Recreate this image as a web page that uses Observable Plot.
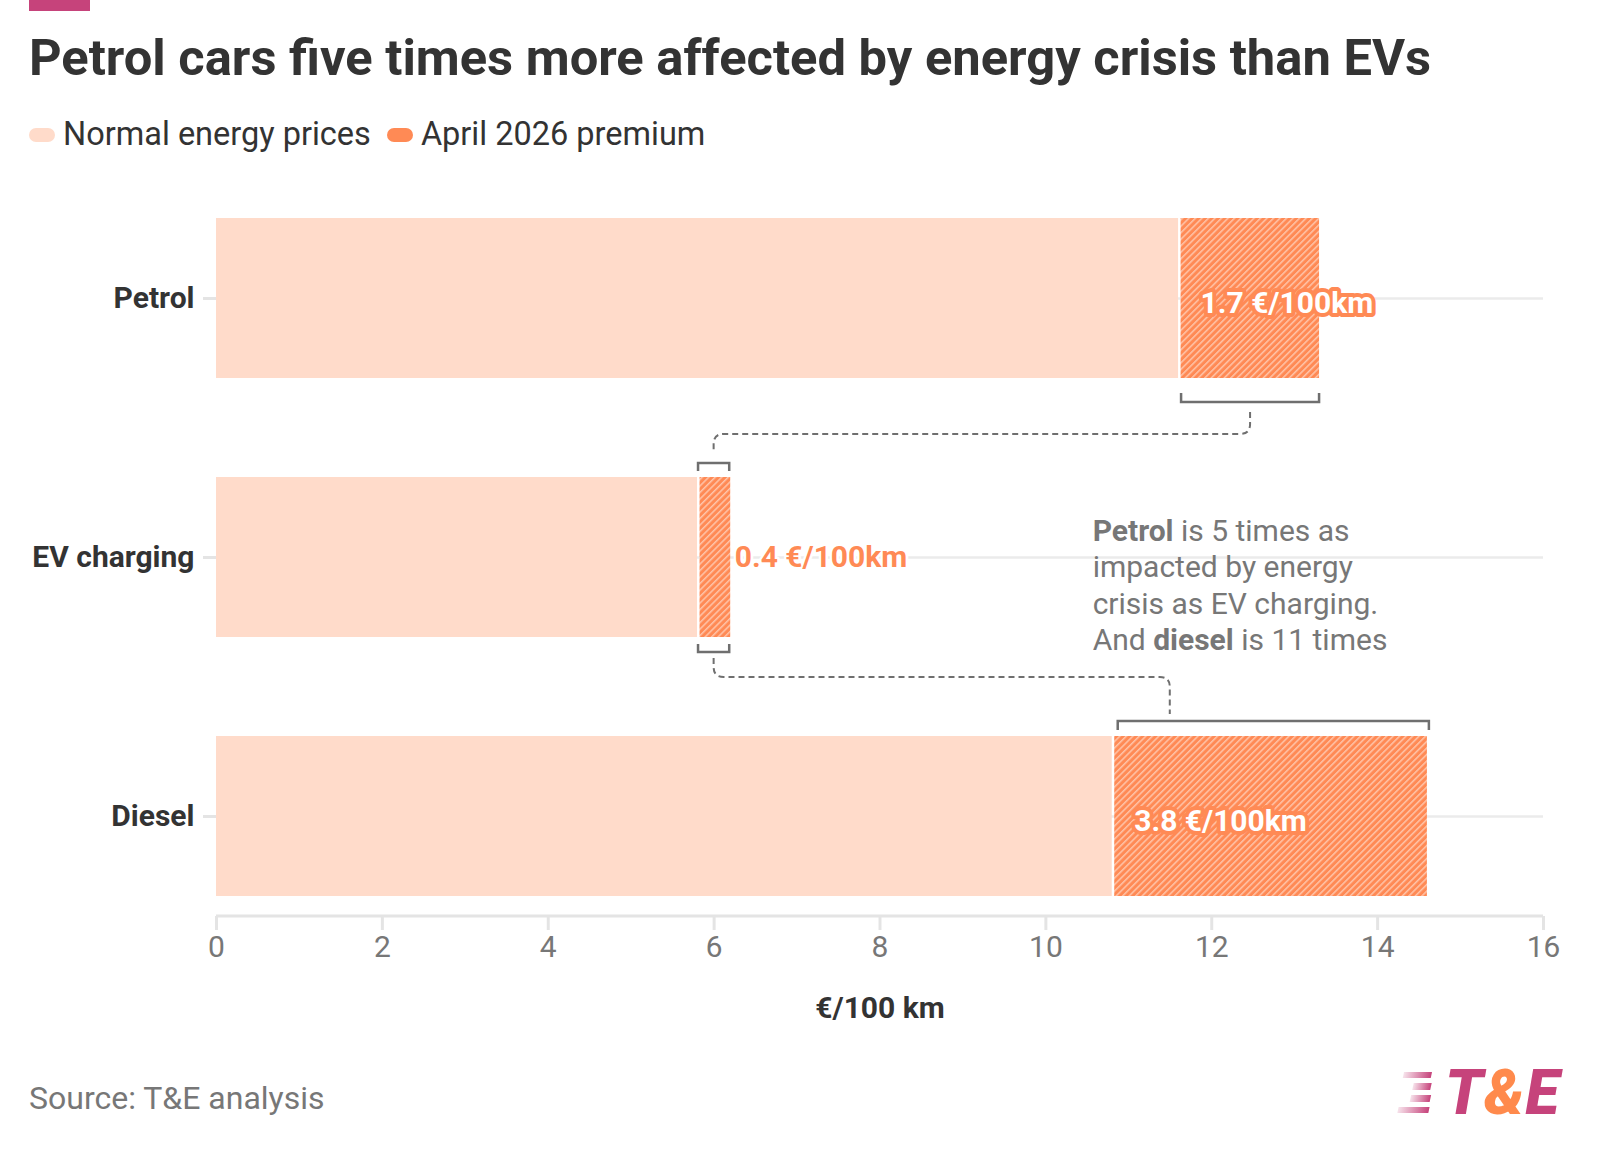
<!DOCTYPE html>
<html><head><meta charset="utf-8">
<script src="https://cdn.jsdelivr.net/npm/d3@7"></script>
<script src="https://cdn.jsdelivr.net/npm/@observablehq/plot@0.6"></script>
<style>
body{margin:0;background:#fff;font-family:Roboto,sans-serif;width:1600px;height:1157px;position:relative;overflow:hidden}
#accent{position:absolute;left:29px;top:0;width:61px;height:11px;background:#c6437b}
#title{position:absolute;left:29px;top:32px;font-size:50.7px;line-height:51px;font-weight:700;color:#333;margin:0;white-space:nowrap}
#legend{position:absolute;left:29px;top:118px;font-size:32.5px;line-height:33px;color:#333;display:flex;align-items:center;white-space:nowrap}
#legend .item{display:flex;align-items:center;margin-right:16px}
#legend .sw{display:inline-block;width:26px;height:14px;border-radius:7px;margin-right:8px}
#chart{position:absolute;left:0;top:170px}
#source{position:absolute;left:29px;top:1082px;font-size:32px;line-height:32px;color:#777}
#logo{position:absolute;left:1385px;top:1058px;overflow:visible}
</style>
</head>
<body>
<div id="accent"></div>
<h1 id="title"></h1>
<div id="legend"></div>
<div id="chart"></div>
<div id="source"></div>
<svg id="logo" width="205" height="75" viewBox="0 0 205 75">
  <defs>
    <linearGradient id="logoGrad" x1="0" x2="1" y1="0" y2="0">
      <stop offset="0" stop-color="#c6437b" stop-opacity="0.15"/>
      <stop offset="1" stop-color="#c6437b" stop-opacity="1"/>
    </linearGradient>
  </defs>
  <g transform="skewX(-12)" fill="url(#logoGrad)">
    <rect x="22" y="14" width="28" height="6"/>
    <rect x="34" y="25" width="18" height="7"/>
    <rect x="34" y="37" width="20" height="7"/>
    <rect x="24" y="49" width="31" height="6"/>
  </g>
  <text x="60" y="56" font-family="Roboto" font-weight="900" font-style="italic" font-size="62" letter-spacing="1"><tspan fill="#c6437b">T</tspan><tspan fill="#ff8a4c">&amp;</tspan><tspan fill="#c6437b">E</tspan></text>
</svg>
<script>
// ---------- data ----------
const titleText = "Petrol cars five times more affected by energy crisis than EVs";
const legendLabels = ["Normal energy prices", "April 2026 premium"];
const categories = ["Petrol", "EV charging", "Diesel"];
const normalValues = [11.6, 5.8, 10.8];
const premiumValues = [1.7, 0.4, 3.8];
const premiumLabels = ["1.7 €/100km", "0.4 €/100km", "3.8 €/100km"];
const xTicks = [0, 2, 4, 6, 8, 10, 12, 14, 16];
const xLabel = "€/100 km";
const annotationLines = ["**Petrol** is 5 times as", "impacted by energy", "crisis as EV charging.", "And **diesel** is 11 times"];
const annotationX = 10.57;
const dieselConnectorX = 11.5;
const sourceText = "Source: T&E analysis";

// ---------- colours ----------
const normalColor = "#ffdbca";
const premiumColor = "#ff8a55";
const bracketColor = "#6f6f6f";

document.getElementById("title").textContent = titleText;
document.getElementById("source").textContent = sourceText;
const legend = document.getElementById("legend");
[normalColor, premiumColor].forEach((c, i) => {
  const it = document.createElement("span"); it.className = "item";
  const sw = document.createElement("span"); sw.className = "sw"; sw.style.background = c;
  it.appendChild(sw); it.appendChild(document.createTextNode(legendLabels[i]));
  legend.appendChild(it);
});

const rows = categories.map((cat, i) => ({
  cat, normal: normalValues[i], premium: premiumValues[i],
  total: +(normalValues[i] + premiumValues[i]).toFixed(2), label: premiumLabels[i]
}));
const inside = rows.filter(d => d.premium >= 1);
const outside = rows.filter(d => d.premium < 1);

function defsMark() {
  const g = d3.create("svg:g");
  const p = g.append("defs").append("pattern")
    .attr("id", "hatch").attr("patternUnits", "userSpaceOnUse")
    .attr("width", 4.6).attr("height", 4.6)
    .attr("patternTransform", "rotate(45)");
  p.append("rect").attr("width", 4.6).attr("height", 4.6).attr("fill", premiumColor);
  p.append("rect").attr("width", 1.5).attr("height", 4.6).attr("fill", "#ffffff").attr("fill-opacity", 0.5);
  return g.node();
}

function axisLineMark(index, scales, values, dimensions) {
  const {x} = scales;
  const yb = dimensions.height - dimensions.marginBottom;
  const g = d3.create("svg:g");
  g.append("line").attr("x1", x(0)).attr("x2", x(16)).attr("y1", yb).attr("y2", yb)
    .attr("stroke", "#e4e4e4").attr("stroke-width", 3);
  return g.node();
}

function bracketsMark(index, scales) {
  const {x, y} = scales;
  const bw = y.bandwidth ? y.bandwidth() : 0;
  const top = c => y(c), bot = c => y(c) + bw;
  const R = rows.reduce((o, d) => (o[d.cat] = d, o), {});
  const g = d3.create("svg:g").attr("fill", "none");
  const solid = g.append("g").attr("stroke", bracketColor).attr("stroke-width", 2.5);
  const dashed = g.append("g").attr("stroke", bracketColor).attr("stroke-width", 2).attr("stroke-dasharray", "6,4");
  const P = R["Petrol"], E = R["EV charging"], D = R["Diesel"];
  const pb = {x1: x(P.normal) + 3, x2: x(P.total), y: bot("Petrol") + 24};
  solid.append("path").attr("d", `M${pb.x1},${pb.y - 9}V${pb.y}H${pb.x2}V${pb.y - 9}`);
  const et = {x1: x(E.normal) + 1, x2: x(E.total) - 1, y: top("EV charging") - 14};
  solid.append("path").attr("d", `M${et.x1},${et.y + 8}V${et.y}H${et.x2}V${et.y + 8}`);
  const eb = {x1: et.x1, x2: et.x2, y: bot("EV charging") + 15};
  solid.append("path").attr("d", `M${eb.x1},${eb.y - 8}V${eb.y}H${eb.x2}V${eb.y - 8}`);
  const db = {x1: x(D.normal) + 6, x2: x(D.total) + 2, y: top("Diesel") - 15};
  solid.append("path").attr("d", `M${db.x1},${db.y + 9}V${db.y}H${db.x2}V${db.y + 9}`);
  const r = 10;
  const xa = (pb.x1 + pb.x2) / 2, xb = (et.x1 + et.x2) / 2;
  const yH1 = bot("Petrol") + 56;
  dashed.append("path").attr("d",
    `M${xa},${pb.y + 10}V${yH1 - r}Q${xa},${yH1} ${xa - r},${yH1}H${xb + r}Q${xb},${yH1} ${xb},${yH1 + r}V${et.y - 10}`);
  const xc = x(dieselConnectorX);
  const yH2 = bot("EV charging") + 40;
  dashed.append("path").attr("d",
    `M${xb},${eb.y + 6}V${yH2 - r}Q${xb},${yH2} ${xb + r},${yH2}H${xc - r}Q${xc},${yH2} ${xc},${yH2 + r}V${db.y - 7}`);
  return g.node();
}

function annotationMark(index, scales) {
  const {x, y} = scales;
  const bw = y.bandwidth ? y.bandwidth() : 0;
  const cy = y("EV charging") + bw / 2 + 28;
  const lh = 36.4;
  const g = d3.create("svg:g").attr("font-size", 30).attr("fill", "#777").attr("text-anchor", "start");
  annotationLines.forEach((line, i) => {
    const t = g.append("text").attr("x", x(annotationX))
      .attr("y", cy + (i - (annotationLines.length - 1) / 2) * lh).attr("dy", "0.35em");
    line.split(/(\*\*[^*]+\*\*)/).forEach(part => {
      if (!part) return;
      const bold = part.startsWith("**");
      const ts = t.append("tspan").text(bold ? part.slice(2, -2) : part);
      if (bold) ts.attr("font-weight", "bold");
    });
  });
  return g.node();
}

const chart = Plot.plot({
  width: 1600,
  height: 870,
  marginLeft: 216,
  marginRight: 57,
  marginTop: 28,
  marginBottom: 124,
  style: {fontFamily: "Roboto, sans-serif", background: "transparent", overflow: "visible"},
  x: {domain: [0, 16]},
  y: {domain: categories, paddingInner: 0.384, paddingOuter: 0.077, align: 0.5},
  marks: [
    defsMark,
    Plot.ruleY(rows, {y: "cat", x1: 0, x2: 16, stroke: "#ebebeb", strokeWidth: 2.5}),
    Plot.ruleX(rows, {x: 0, y: "cat", stroke: "#e6e6e6", strokeWidth: 3, insetTop: -20, insetBottom: -20}),
    axisLineMark,
    Plot.barX(rows, {y: "cat", x1: 0, x2: "normal", fill: normalColor}),
    Plot.barX(rows, {y: "cat", x1: "normal", x2: "total", fill: "url(#hatch)", insetLeft: 2.5}),
    Plot.text(inside, {x: "normal", y: "cat", text: "label", dx: 22, dy: 5, textAnchor: "start",
      fill: "white", stroke: premiumColor, strokeWidth: 8, strokeLinejoin: "round", paintOrder: "stroke",
      fontSize: 30, fontWeight: "bold"}),
    Plot.text(outside, {x: "total", y: "cat", text: "label", dx: 4, dy: 0, textAnchor: "start",
      fill: premiumColor, stroke: "white", strokeWidth: 5, paintOrder: "stroke",
      fontSize: 30, fontWeight: "bold"}),
    bracketsMark,
    annotationMark,
    Plot.axisX({ticks: xTicks, tickSize: 14, tickPadding: 5, fontSize: 30, fill: "#777",
      stroke: "#e4e4e4", strokeWidth: 3, label: null, tickFormat: d => String(d)}),
    Plot.axisY({tickSize: 13, tickPadding: 9, fontSize: 30, fontWeight: "bold", fill: "#333",
      stroke: "#e4e4e4", strokeWidth: 3, label: null}),
    Plot.text([xLabel], {text: d => d, frameAnchor: "bottom", dy: 92, fontSize: 30,
      fontWeight: "bold", fill: "#333", lineAnchor: "middle"})
  ]
});
document.getElementById("chart").appendChild(chart);
</script>
</body></html>
